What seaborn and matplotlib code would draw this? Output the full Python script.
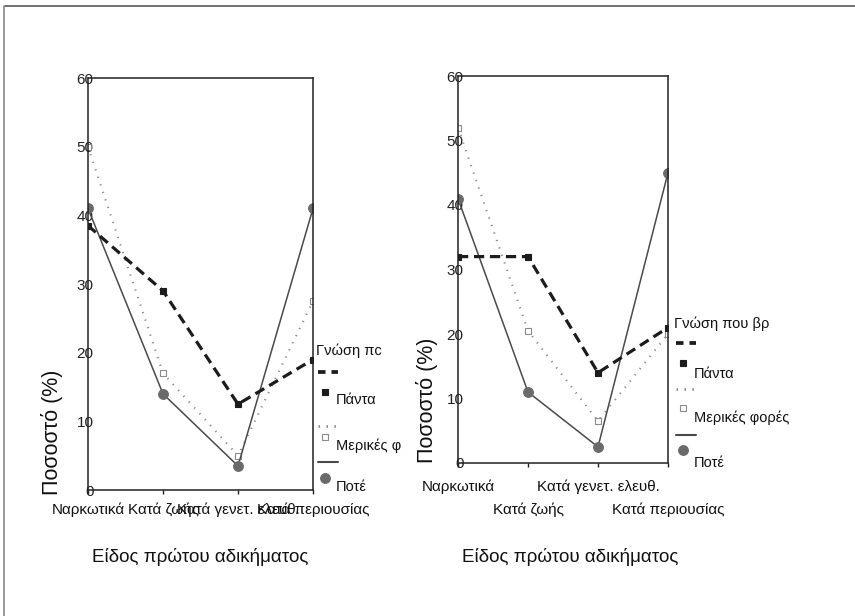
import numpy as np
import pandas as pd
import matplotlib
matplotlib.use('Agg')
import matplotlib.pyplot as plt
import seaborn as sns
from matplotlib.lines import Line2D

# Δεδομένα
kathgories = ['Ναρκωτικά', 'Κατά ζωής', 'Κατά γενετ. ελευθ.', 'Κατά περιουσίας']
seires = ['Πάντα', 'Μερικές φορές', 'Ποτέ']

# αριστερό γράφημα
aristera_panta = [38.5, 29, 12.5, 19]
aristera_merikes = [50, 17, 5, 27.5]
aristera_pote = [41, 14, 3.5, 41]

# δεξί γράφημα
dexia_panta = [32, 32, 14, 21]
dexia_merikes = [52, 20.5, 6.5, 20]
dexia_pote = [41, 11, 2.5, 45]

titlos_x = 'Είδος πρώτου αδικήματος'
titlos_y = 'Ποσοστό (%)'

sns.set_theme(style='white')
plt.rcParams['font.family'] = ['Liberation Sans', 'DejaVu Sans']

styl = {
    'Πάντα': dict(color='#1c1c1c', lw=2.3, dashes=(3.2, 1.8), marker='s', ms=5,
                  mfc='#1c1c1c', mec='#1c1c1c', leg_dashes=(2.0, 1.6)),
    'Μερικές φορές': dict(color='#8c8c8c', lw=1.5, dashes=(0.6, 3.2), marker='s', ms=4.5,
                          mfc='white', mec='#8a8a8a', leg_dashes=(0.6, 2.4)),
    'Ποτέ': dict(color='#4a4a4a', lw=1.1, dashes=(None, None), marker='o', ms=7,
                 mfc='#6a6a6a', mec='#6a6a6a', leg_dashes=None),
}


def grafima(ax, panta, merikes, pote, pad_x):
    df = pd.DataFrame({'kat': kathgories * 3,
                       'timi': panta + merikes + pote,
                       'seira': np.repeat(seires, 4)})
    for s in ['Μερικές φορές', 'Ποτέ', 'Πάντα']:
        st = styl[s]
        d = df[df['seira'] == s]
        sns.lineplot(data=d, x='kat', y='timi', ax=ax, color=st['color'],
                     lw=st['lw'], marker=st['marker'], ms=st['ms'],
                     markerfacecolor=st['mfc'], markeredgecolor=st['mec'],
                     markeredgewidth=0.8, sort=False, legend=False)
        l = ax.lines[-1]
        if st['dashes'][0] is not None:
            l.set_dashes(st['dashes'])
            l.set_dash_capstyle('butt')
    ax.set_xlim(0, 3)
    ax.set_ylim(0, 60)
    ax.set_yticks([0, 10, 20, 30, 40, 50, 60])
    ax.set_xticks(range(4))
    ax.set_xlabel('')
    ax.set_ylabel('')
    for sp in ax.spines.values():
        sp.set_color('#222222')
        sp.set_linewidth(1.1)
    ax.tick_params(axis='y', length=0, pad=-4, labelsize=11, labelcolor='#222222')
    ax.tick_params(axis='x', length=3, width=1, color='#222222', bottom=True,
                   labelsize=11, labelcolor='#111111', direction='out', pad=pad_x)
    ax.set_facecolor('white')


def ypomnima(fig, x0, y_titlos, titlos, y_grammes, y_markers, y_keimena, etiketes):
    W, H = 855, 616
    tr = fig.transFigure
    fig.text(x0 / W, 1 - y_titlos / H, titlos, fontsize=10.5, va='center', ha='left',
             color='#111111')
    for s, yg, ym, yk, et in zip(seires, y_grammes, y_markers, y_keimena, etiketes):
        st = styl[s]
        ln = Line2D([(x0 + 2) / W, (x0 + 22) / W], [1 - yg / H] * 2, transform=tr,
                    color=st['color'], lw=st['lw'] + 0.4)
        if st['leg_dashes'] is not None:
            ln.set_dashes(st['leg_dashes'])
            ln.set_dash_capstyle('butt')
        fig.add_artist(ln)
        mk = Line2D([(x0 + 9) / W], [1 - ym / H], transform=tr, marker=st['marker'],
                    ms=st['ms'], mfc=st['mfc'], mec=st['mec'], mew=0.8, lw=0)
        fig.add_artist(mk)
        fig.text((x0 + 20) / W, 1 - yk / H, et, fontsize=10.5, va='center',
                 ha='left', color='#111111')


fig = plt.figure(figsize=(8.55, 6.16), dpi=100)
W, H = 855, 616

ax1 = fig.add_axes([88 / W, 1 - 490 / H, 225 / W, 412 / H])
grafima(ax1, aristera_panta, aristera_merikes, aristera_pote, 6)
ax1.set_xticklabels(kathgories)

ax2 = fig.add_axes([458 / W, 1 - 463 / H, 210 / W, 387 / H])
grafima(ax2, dexia_panta, dexia_merikes, dexia_pote, 9)
ax2.set_xticklabels([k if i % 2 == 0 else '\n' + k for i, k in enumerate(kathgories)],
                    linespacing=1.75)

# τίτλοι αξόνων
fig.text(200 / W, 1 - 557 / H, titlos_x, fontsize=13.5, ha='center', va='center',
         color='#111111')
fig.text(570 / W, 1 - 557 / H, titlos_x, fontsize=13.5, ha='center', va='center',
         color='#111111')
fig.text(52 / W, 1 - 432 / H, titlos_y, fontsize=15.5, rotation=90, ha='center',
         va='center', color='#111111')
fig.text(427 / W, 1 - 400 / H, titlos_y, fontsize=15.5, rotation=90, ha='center',
         va='center', color='#111111')

# υπομνήματα (κομμένα όπως στο πρωτότυπο)
ypomnima(fig, 316, 351, 'Γνώση πc', [372, 426, 462], [392, 437, 478], [400, 446, 487],
         ['Πάντα', 'Μερικές φ', 'Ποτέ'])
ypomnima(fig, 674, 324, 'Γνώση που βρ', [343, 389, 435], [363, 408, 450], [374, 418, 463],
         seires)

# πλαίσιο σάρωσης
fig.add_artist(Line2D([5 / W, 1], [1 - 6 / H] * 2, transform=fig.transFigure,
                      color='#666666', lw=1.3))
fig.add_artist(Line2D([4 / W, 4 / W], [0, 1 - 6 / H], transform=fig.transFigure,
                      color='#888888', lw=1.2))

fig.savefig('out.png', dpi=100, facecolor='white')
